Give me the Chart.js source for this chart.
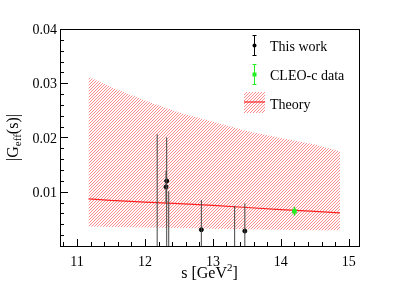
<!DOCTYPE html>
<html>
<head>
<meta charset="utf-8">
<script src="https://cdn.jsdelivr.net/npm/chart.js@4.4.1/dist/chart.umd.min.js"></script>
<style>
  body { margin: 0; background: #fff; }
</style>
</head>
<body>
<canvas id="chart" width="399" height="293"></canvas>
<script>
// measured points ("This work"), s in GeV^2
const workS = [12.18, 12.32, 12.31, 12.35, 12.83, 13.32, 13.47];
const workG = [-0.002, 0.0120, 0.0109, -0.001, 0.0030, -0.001, 0.00275];
const workUp = [0.0226, 0.0080, 0.0029, 0.0111, 0.0055, 0.0084, 0.0051];
const workDown = [0.0226, 0.0130, 0.0029, 0.0110, 0.0055, 0.0084, 0.0051];

// CLEO-c point
const cleoS = [14.2];
const cleoG = [0.0064];
const cleoErr = [0.0008];

// theory curve with its band
const theoryS = [11.17, 11.5, 12.0, 12.5, 13.0, 13.5, 14.0, 14.5, 14.87];
const theoryMid = [0.0087, 0.0084, 0.0081, 0.0078, 0.0075, 0.0071, 0.0067, 0.0064, 0.0061];
const theoryHigh = [0.0312, 0.0293, 0.0268, 0.0246, 0.0229, 0.0212, 0.0199, 0.0187, 0.0174];
const theoryLow = [0.0036, 0.0035, 0.0034, 0.0033, 0.0032, 0.0031, 0.0030, 0.0029, 0.0029];

// axis ticks
const xTicks = [11, 12, 13, 14, 15];
const xTickLabels = ['11', '12', '13', '14', '15'];
const yTicks = [0.01, 0.02, 0.03, 0.04];
const yTickLabels = ['0.01', '0.02', '0.03', '0.04'];

const legendLabels = ['This work', 'CLEO-c data', 'Theory'];

const FONT = '"Liberation Serif", "DejaVu Serif", serif';
const ctx = document.getElementById('chart').getContext('2d');

// ROOT-like "/" hatch, built pixel by pixel
function makeHatch(r, g, b) {
    const n = 3;
    const c = document.createElement('canvas');
    c.width = n; c.height = n;
    const gc = c.getContext('2d');
    const img = gc.createImageData(n, n);
    for (let i = 0; i < n; i++) {
        const k = ((n - 1 - i) * n + i) * 4;
        img.data[k] = r; img.data[k + 1] = g; img.data[k + 2] = b; img.data[k + 3] = 255;
    }
    gc.putImageData(img, 0, 0);
    return ctx.createPattern(c, 'repeat');
}
const hatch = makeHatch(255, 140, 140);

const pts = (xs, ys) => xs.map((x, i) => ({ x: x, y: ys[i] }));

// error bars, drawn through the chart scales
const errorBars = {
    id: 'errorBars',
    afterDatasetsDraw(chart) {
        const c = chart.ctx, xs = chart.scales.x, ys = chart.scales.y, a = chart.chartArea;
        c.save();
        c.beginPath();
        c.rect(a.left, a.top, a.right - a.left, a.bottom - a.top);
        c.clip();
        c.lineWidth = 1;
        c.strokeStyle = '#444';
        workS.forEach((s, i) => {
            const px = xs.getPixelForValue(s);
            c.beginPath();
            c.moveTo(px, ys.getPixelForValue(workG[i] + workUp[i]));
            c.lineTo(px, ys.getPixelForValue(workG[i] - workDown[i]));
            c.stroke();
        });
        c.strokeStyle = '#22ee22';
        c.lineWidth = 1.5;
        cleoS.forEach((s, i) => {
            const px = xs.getPixelForValue(s);
            c.beginPath();
            c.moveTo(px, ys.getPixelForValue(cleoG[i] + cleoErr[i]));
            c.lineTo(px, ys.getPixelForValue(cleoG[i] - cleoErr[i]));
            c.stroke();
        });
        c.restore();
    }
};

// frame, ROOT style ticks, labels, titles and legend
const decorations = {
    id: 'decorations',
    afterDraw(chart) {
        const c = chart.ctx, xs = chart.scales.x, ys = chart.scales.y, a = chart.chartArea;
        c.save();
        c.strokeStyle = '#000';
        c.lineWidth = 1;
        c.strokeRect(a.left + 0.5, a.top + 0.5, a.right - a.left, a.bottom - a.top);

        // x ticks
        c.beginPath();
        for (let v = 10.8; v <= 15.15; v += 0.2) {
            const px = Math.round(xs.getPixelForValue(v)) + 0.5;
            const major = Math.abs(v - Math.round(v)) < 1e-6;
            c.moveTo(px, a.bottom);
            c.lineTo(px, a.bottom - (major ? 7 : 4));
        }
        // y ticks
        for (let v = 0.002; v <= 0.0401; v += 0.002) {
            const py = Math.round(ys.getPixelForValue(v)) + 0.5;
            const major = Math.abs(v * 100 - Math.round(v * 100)) < 1e-6;
            c.moveTo(a.left, py);
            c.lineTo(a.left + (major ? 8 : 4), py);
        }
        c.stroke();

        c.fillStyle = '#000';
        c.font = '14px ' + FONT;
        c.textAlign = 'center';
        c.textBaseline = 'alphabetic';
        xTicks.forEach((v, i) => c.fillText(xTickLabels[i], xs.getPixelForValue(v), 266));
        c.textAlign = 'right';
        yTicks.forEach((v, i) => c.fillText(yTickLabels[i], 57, ys.getPixelForValue(v) + 5));

        // x title: s [GeV^2]
        c.textAlign = 'left';
        c.font = '16px ' + FONT;
        const p1 = 's [GeV', p3 = ']';
        const w1 = c.measureText(p1).width, w3 = c.measureText(p3).width;
        c.font = '11px ' + FONT;
        const w2 = c.measureText('2').width;
        let tx = (a.left + a.right) / 2 - (w1 + w2 + w3) / 2;
        c.font = '16px ' + FONT;
        c.fillText(p1, tx, 278);
        c.font = '11px ' + FONT;
        c.fillText('2', tx + w1, 271);
        c.font = '16px ' + FONT;
        c.fillText(p3, tx + w1 + w2, 278);

        // y title: |G_eff(s)|
        c.save();
        c.translate(18, (a.top + a.bottom) / 2);
        c.rotate(-Math.PI / 2);
        c.font = '16px ' + FONT;
        const q1 = '|G', q3 = '(s)|';
        const v1 = c.measureText(q1).width, v3 = c.measureText(q3).width;
        c.font = '11px ' + FONT;
        const v2 = c.measureText('eff').width;
        let ty = -(v1 + v2 + v3) / 2;
        c.font = '16px ' + FONT;
        c.fillText(q1, ty, 0);
        c.font = '11px ' + FONT;
        c.fillText('eff', ty + v1, 3);
        c.font = '16px ' + FONT;
        c.fillText(q3, ty + v1 + v2, 0);
        c.restore();

        // legend
        const mx = 254;
        // This work
        c.strokeStyle = '#000';
        c.beginPath();
        c.moveTo(mx + 0.5, 35); c.lineTo(mx + 0.5, 56);
        c.moveTo(mx - 1.5, 35.5); c.lineTo(mx + 2.5, 35.5);
        c.moveTo(mx - 1.5, 55.5); c.lineTo(mx + 2.5, 55.5);
        c.stroke();
        c.fillStyle = '#000';
        c.beginPath(); c.arc(mx + 0.5, 45.5, 2, 0, Math.PI * 2); c.fill();
        // CLEO-c
        c.strokeStyle = '#22ee22';
        c.beginPath();
        c.moveTo(mx + 0.5, 64); c.lineTo(mx + 0.5, 85);
        c.moveTo(mx - 1.5, 64.5); c.lineTo(mx + 2.5, 64.5);
        c.moveTo(mx - 1.5, 84.5); c.lineTo(mx + 2.5, 84.5);
        c.stroke();
        c.fillStyle = '#22ee22';
        c.fillRect(mx - 1.5, 72.5, 4, 4);
        // Theory
        c.fillStyle = hatch;
        c.fillRect(244, 92, 21, 21);
        c.strokeStyle = '#ff2020';
        c.lineWidth = 1.2;
        c.beginPath(); c.moveTo(244, 102); c.lineTo(265, 102); c.stroke();

        c.fillStyle = '#000';
        c.font = '14px ' + FONT;
        c.textAlign = 'left';
        c.fillText(legendLabels[0], 270, 50.5);
        c.fillText(legendLabels[1], 270, 80);
        c.fillText(legendLabels[2], 270, 108.5);
        c.restore();
    }
};

new Chart(ctx, {
    type: 'scatter',
    data: {
        datasets: [
            {
                label: 'Theory high',
                type: 'line',
                data: pts(theoryS, theoryHigh),
                borderWidth: 0,
                pointRadius: 0,
                fill: '+1',
                backgroundColor: hatch,
                order: 5
            },
            {
                label: 'Theory low',
                type: 'line',
                data: pts(theoryS, theoryLow),
                borderWidth: 0,
                pointRadius: 0,
                fill: false,
                order: 5
            },
            {
                label: legendLabels[2],
                type: 'line',
                data: pts(theoryS, theoryMid),
                borderColor: '#ff2020',
                borderWidth: 1.2,
                pointRadius: 0,
                fill: false,
                order: 3
            },
            {
                label: legendLabels[1],
                data: pts(cleoS, cleoG),
                pointStyle: 'rect',
                pointRadius: 2.5,
                backgroundColor: '#22ee22',
                borderColor: '#22ee22',
                order: 1
            },
            {
                label: legendLabels[0],
                data: pts(workS, workG),
                pointRadius: 2,
                backgroundColor: '#000',
                borderColor: '#000',
                order: 1
            }
        ]
    },
    options: {
        responsive: false,
        animation: false,
        devicePixelRatio: 1,
        layout: { padding: { left: 60, top: 29, right: 40, bottom: 47 } },
        scales: {
            x: { type: 'linear', min: 10.75, max: 15.15, display: false },
            y: { type: 'linear', min: 0, max: 0.04, display: false }
        },
        plugins: {
            legend: { display: false },
            tooltip: { enabled: false }
        }
    },
    plugins: [errorBars, decorations]
});
</script>
</body>
</html>
